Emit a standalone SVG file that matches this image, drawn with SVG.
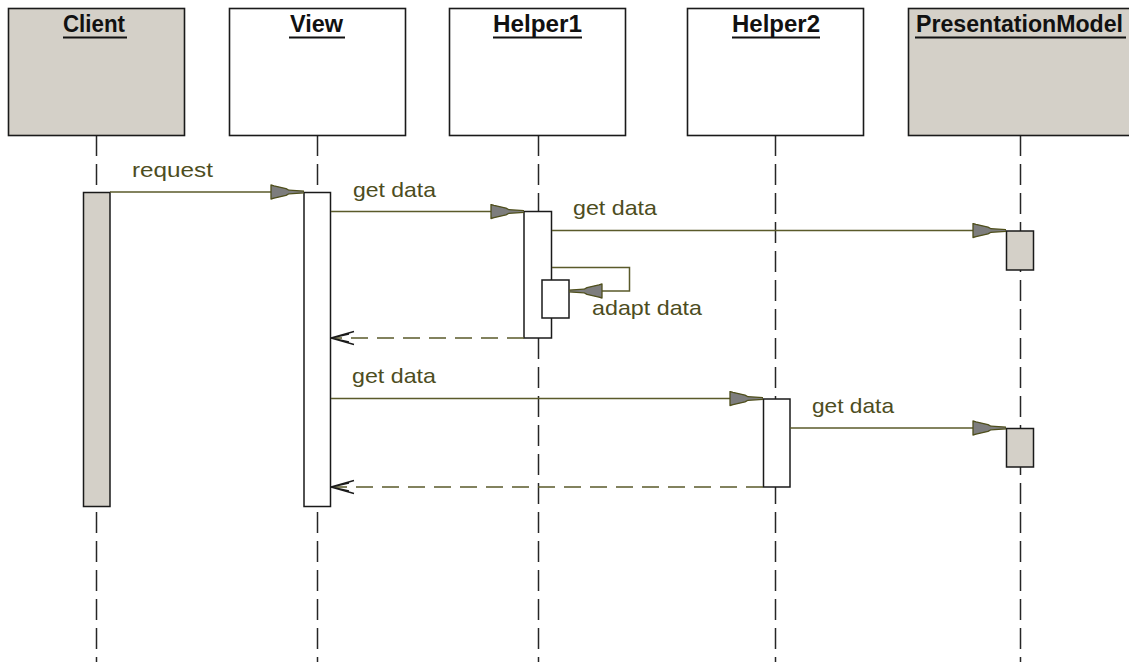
<svg xmlns="http://www.w3.org/2000/svg" width="1129" height="662" viewBox="0 0 1129 662">
  <style>
    .obj { stroke: #1a1a1a; stroke-width: 1.6; }
    .gray { fill: #d4d0c8; }
    .white { fill: #ffffff; }
    .title { font-family: "Liberation Sans", Arial, sans-serif; font-weight: bold; font-size: 23px; fill: #111111; text-anchor: middle; }
    .uline { stroke: #111111; stroke-width: 1.8; }
    .life { stroke: #262626; stroke-width: 1.5; stroke-dasharray: 21 8; fill: none; }
    .act { stroke: #1a1a1a; stroke-width: 1.5; }
    .msg { stroke: #5a5a2a; stroke-width: 1.5; fill: none; }
    .ret { stroke: #5a5a2a; stroke-width: 1.6; fill: none; stroke-dasharray: 17 9; }
    .lbl { font-family: "Liberation Sans", Arial, sans-serif; font-size: 21px; fill: #4d4d1e; }
  </style>
  <defs>
    <!-- filled synchronous-call head: wide wedge with a narrow tip -->
    <marker id="sync" viewBox="0 0 34 16" refX="34" refY="8" markerWidth="34" markerHeight="16" markerUnits="userSpaceOnUse" orient="auto">
      <path d="M1,1 L4,1.8 L16,4.6 L19,6.2 L34,7.1 L34,8.9 L19,9.8 L16,11.4 L4,14.2 L1,15 Z" fill="#7d7d7d" stroke="#4f4f1c" stroke-width="1.3" stroke-linejoin="round"/>
    </marker>
    <!-- open return head -->
    <marker id="open" viewBox="0 0 26 16" refX="25" refY="8" markerWidth="26" markerHeight="16" markerUnits="userSpaceOnUse" orient="auto">
      <path d="M2,1.5 L25,8 L2,14.5 M7,4 L25,8 L7,12" fill="none" stroke="#1a1a1a" stroke-width="1.3" stroke-dasharray="none"/>
    </marker>
  </defs>

  <!-- lifelines -->
  <g id="lifelines">
    <line class="life" x1="96.5" y1="135" x2="96.5" y2="662"/>
    <line class="life" x1="317.5" y1="135" x2="317.5" y2="662"/>
    <line class="life" x1="538.5" y1="135" x2="538.5" y2="662"/>
    <line class="life" x1="775.5" y1="135" x2="775.5" y2="662"/>
    <line class="life" x1="1020.5" y1="135" x2="1020.5" y2="662"/>
  </g>

  <!-- object heads -->
  <g id="client">
    <rect class="obj gray" x="8.5" y="8.5" width="176" height="127"/>
    <text class="title" x="94" y="32" textLength="62" lengthAdjust="spacingAndGlyphs">Client</text>
    <line class="uline" x1="63" y1="37.5" x2="127" y2="37.5"/>
  </g>
  <g id="view">
    <rect class="obj white" x="229.5" y="8.5" width="176" height="127"/>
    <text class="title" x="316.5" y="32" textLength="53" lengthAdjust="spacingAndGlyphs">View</text>
    <line class="uline" x1="289" y1="37.5" x2="345" y2="37.5"/>
  </g>
  <g id="helper1">
    <rect class="obj white" x="449.5" y="8.5" width="176" height="127"/>
    <text class="title" x="537.5" y="32" textLength="89" lengthAdjust="spacingAndGlyphs">Helper1</text>
    <line class="uline" x1="493" y1="37.5" x2="582" y2="37.5"/>
  </g>
  <g id="helper2">
    <rect class="obj white" x="687.5" y="8.5" width="176" height="127"/>
    <text class="title" x="776" y="32" textLength="88" lengthAdjust="spacingAndGlyphs">Helper2</text>
    <line class="uline" x1="732" y1="37.5" x2="820" y2="37.5"/>
  </g>
  <g id="presentation-model">
    <rect class="obj gray" x="908.5" y="8.5" width="230" height="127"/>
    <text class="title" x="1019.5" y="32" textLength="207" lengthAdjust="spacingAndGlyphs">PresentationModel</text>
    <line class="uline" x1="915" y1="37.5" x2="1126" y2="37.5"/>
  </g>

  <!-- activation bars -->
  <g id="activations">
    <rect class="act gray" x="83.5" y="192.5" width="26.5" height="314"/>
    <rect class="act white" x="304" y="192.5" width="26.5" height="314"/>
    <rect class="act white" x="524" y="211.5" width="27.5" height="126.5"/>
    <rect class="act white" x="542" y="280" width="27" height="38"/>
    <rect class="act white" x="763.5" y="399" width="26.5" height="88"/>
    <rect class="act gray" x="1006.5" y="231" width="27" height="39"/>
    <rect class="act gray" x="1006.5" y="428.5" width="27" height="38.5"/>
  </g>

  <!-- messages -->
  <g id="connectors">
    <line class="msg" x1="110" y1="192" x2="304" y2="192" marker-end="url(#sync)"/>
    <line class="msg" x1="331" y1="211.5" x2="524" y2="211.5" marker-end="url(#sync)"/>
    <line class="msg" x1="552" y1="230.5" x2="1006" y2="230.5" marker-end="url(#sync)"/>
    <polyline class="msg" points="552,267.5 629.5,267.5 629.5,291 569,291" marker-end="url(#sync)"/>
    <line class="ret" x1="524" y1="338" x2="331" y2="338" marker-end="url(#open)"/>
    <line class="msg" x1="331" y1="398.5" x2="763" y2="398.5" marker-end="url(#sync)"/>
    <line class="msg" x1="790" y1="428" x2="1006" y2="428" marker-end="url(#sync)"/>
    <line class="ret" x1="763" y1="487" x2="331" y2="487" marker-end="url(#open)"/>
  </g>

  <!-- message labels -->
  <g id="labels">
    <text class="lbl" x="132" y="177" textLength="81" lengthAdjust="spacingAndGlyphs">request</text>
    <text class="lbl" x="353" y="196.5" textLength="83" lengthAdjust="spacingAndGlyphs">get data</text>
    <text class="lbl" x="573" y="215" textLength="84" lengthAdjust="spacingAndGlyphs">get data</text>
    <text class="lbl" x="592" y="315" textLength="110" lengthAdjust="spacingAndGlyphs">adapt data</text>
    <text class="lbl" x="352" y="383" textLength="84" lengthAdjust="spacingAndGlyphs">get data</text>
    <text class="lbl" x="812" y="413" textLength="82" lengthAdjust="spacingAndGlyphs">get data</text>
  </g>
</svg>
